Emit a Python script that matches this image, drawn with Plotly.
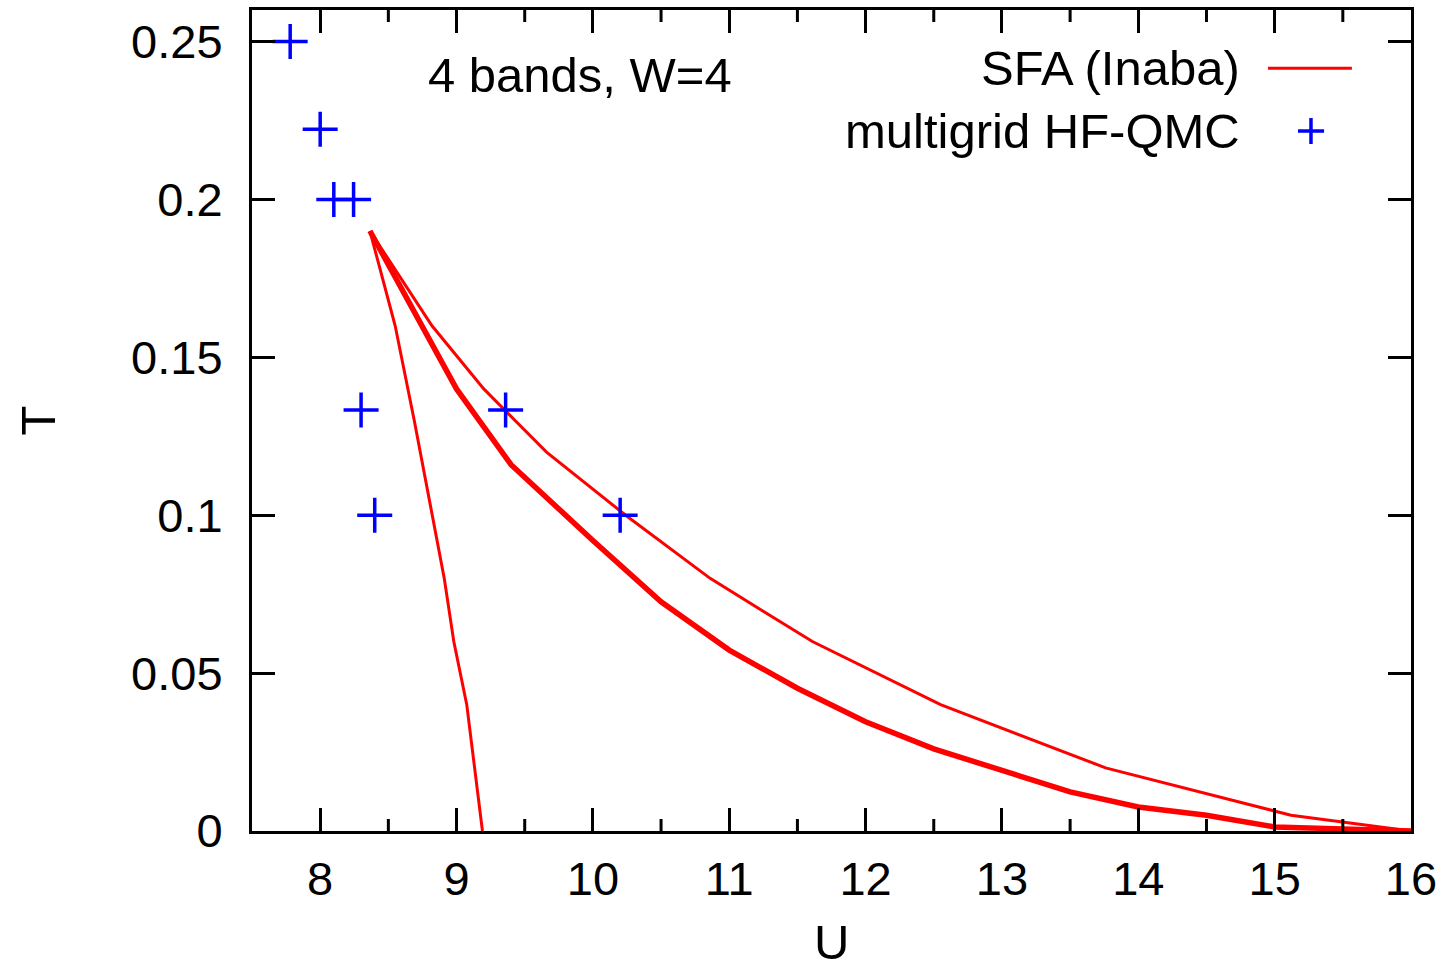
import plotly.graph_objects as go

# SFA (Inaba) curves
sfa_a_U = [8.365, 8.55, 8.69, 8.78, 8.91, 8.98, 9.075, 9.19]
sfa_a_T = [0.19, 0.16, 0.13, 0.11, 0.08, 0.06, 0.04, 0.0]

sfa_b_U = [8.365, 8.82, 9.2, 9.66, 10.24, 10.86, 11.61, 12.55, 13.76, 15.12, 16.0]
sfa_b_T = [0.19, 0.16, 0.14, 0.12, 0.10, 0.08, 0.06, 0.04, 0.02, 0.005, 0.0]

sfa_c_U = [8.365, 9.0, 9.4, 10.0, 10.5, 11.0, 11.5, 12.0, 12.5, 13.0, 13.5, 14.0, 14.5, 15.0, 16.0]
sfa_c_T = [0.19, 0.14, 0.116, 0.092, 0.0726, 0.0573, 0.0452, 0.0346, 0.026, 0.019, 0.0124, 0.0076, 0.005, 0.0013, 0.0]

# multigrid HF-QMC points
qmc_U = [7.78, 8.0, 8.1, 8.245, 8.3, 8.4, 9.36, 10.2]
qmc_T = [0.25, 0.2222, 0.2, 0.2, 0.1333, 0.1, 0.1333, 0.1]

x_ticks = [8, 9, 10, 11, 12, 13, 14, 15, 16]
x_minor_ticks = [8.5, 9.5, 10.5, 11.5, 12.5, 13.5, 14.5, 15.5]
y_ticks = [0, 0.05, 0.1, 0.15, 0.2, 0.25]

RED = "#ff0000"
BLUE = "#0000ff"
FONT = "Liberation Sans, Arial, Helvetica, sans-serif"
FS = 49
TFS = 47
PLOT_H = 974 - 10 - 143

fig = go.Figure()
fig.add_trace(go.Scatter(x=sfa_a_U, y=sfa_a_T, mode="lines",
                         line=dict(color=RED, width=3), showlegend=False))
fig.add_trace(go.Scatter(x=sfa_b_U, y=sfa_b_T, mode="lines",
                         line=dict(color=RED, width=3), showlegend=False))
fig.add_trace(go.Scatter(x=sfa_c_U, y=sfa_c_T, mode="lines",
                         line=dict(color=RED, width=5.5), showlegend=False))
fig.add_trace(go.Scatter(x=qmc_U, y=qmc_T, mode="markers",
                         marker=dict(symbol="cross-thin", size=25,
                                     line=dict(color=BLUE, width=3.5)),
                         showlegend=False))

axis_common = dict(
    showline=True, linecolor="black", linewidth=3, mirror="ticks",
    ticks="inside", ticklen=23, tickwidth=3, tickcolor="black",
    showgrid=False, zeroline=False, automargin=False,
    tickfont=dict(family=FONT, size=TFS, color="black"),
)

fig.update_xaxes(range=[7.5, 16], tickmode="array", tickvals=x_ticks,
                 ticklabelstandoff=5,
                 **axis_common)
fig.update_yaxes(range=[0, 0.26], tickvals=y_ticks,
                 title=dict(text="T", font=dict(family=FONT, size=FS, color="black"),
                            standoff=60),
                 ticklabelstandoff=17,
                 **axis_common)

# x-axis title
fig.add_annotation(xref="paper", yref="paper", x=0.5, y=-0.1705,
                   xanchor="center", yanchor="bottom", showarrow=False,
                   text="U", font=dict(family=FONT, size=FS, color="black"))

# minor x ticks (bottom and top, inside)
mlen = 12 / PLOT_H
for xv in x_minor_ticks:
    fig.add_shape(type="line", xref="x", yref="paper", x0=xv, x1=xv,
                  y0=0, y1=mlen, line=dict(color="black", width=3))
    fig.add_shape(type="line", xref="x", yref="paper", x0=xv, x1=xv,
                  y0=1 - mlen, y1=1, line=dict(color="black", width=3))

# legend (gnuplot style: text right-aligned, sample to the right)
fig.add_annotation(xref="paper", yref="paper", x=0.8545, y=0.929,
                   xanchor="right", yanchor="middle", showarrow=False,
                   text="SFA (Inaba)", font=dict(family=FONT, size=FS, color="black"))
fig.add_annotation(xref="paper", yref="paper", x=0.8545, y=0.8526,
                   xanchor="right", yanchor="middle", showarrow=False,
                   text="multigrid HF-QMC", font=dict(family=FONT, size=FS, color="black"))
fig.add_shape(type="line", xref="paper", yref="paper",
              x0=0.8766, x1=0.949, y0=0.929, y1=0.929,
              line=dict(color=RED, width=3))
fig.add_shape(type="line", xref="paper", yref="paper",
              x0=0.9025, x1=0.925, y0=0.8526, y1=0.8526,
              line=dict(color=BLUE, width=3.5))
fig.add_shape(type="line", xref="paper", yref="paper",
              x0=0.9137, x1=0.9137, y0=0.8368, y1=0.8684,
              line=dict(color=BLUE, width=3.5))

fig.add_annotation(xref="paper", yref="paper", x=0.283, y=0.921,
                   xanchor="center", yanchor="middle", showarrow=False,
                   text="4 bands, W=4", font=dict(family=FONT, size=FS, color="black"))

fig.update_layout(
    width=1449, height=974,
    margin=dict(l=252, r=38, t=10, b=143),
    plot_bgcolor="white", paper_bgcolor="white",
    showlegend=False,
)

fig.write_html("out.html")
